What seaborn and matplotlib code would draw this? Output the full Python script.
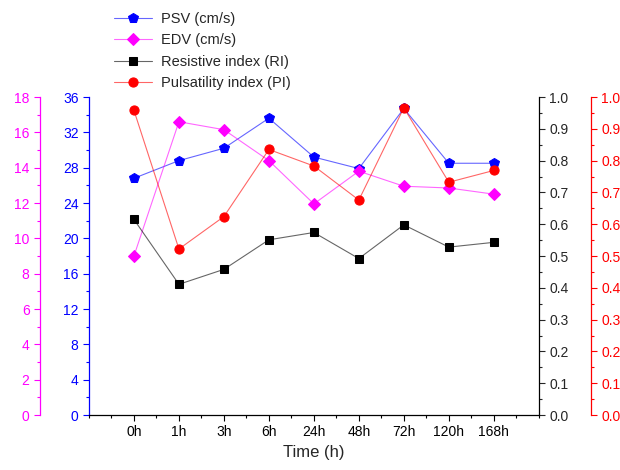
import numpy as np
import pandas as pd
import matplotlib
matplotlib.use("Agg")
import matplotlib.pyplot as plt
from matplotlib.ticker import MultipleLocator
from matplotlib.colors import to_rgba
import seaborn as sns

sns.set_style("ticks")
plt.rcParams["font.family"] = ["Liberation Sans", "DejaVu Sans"]

time_labels = ["0h", "1h", "3h", "6h", "24h", "48h", "72h", "120h", "168h"]
psv = [26.8, 28.8, 30.2, 33.6, 29.2, 27.9, 34.7, 28.5, 28.5]
edv = [9.0, 16.6, 16.15, 14.4, 11.95, 13.8, 12.95, 12.85, 12.5]
ri = [0.615, 0.411, 0.458, 0.551, 0.574, 0.492, 0.598, 0.528, 0.543]
pi = [0.958, 0.522, 0.624, 0.835, 0.783, 0.676, 0.966, 0.732, 0.769]

df = pd.DataFrame({"pos": np.arange(1, len(time_labels) + 1),
                   "PSV": psv, "EDV": edv, "RI": ri, "PI": pi})

BLUE, MAG, RED = "#0000ff", "#ff00ff", "#ff0000"

fig = plt.figure(figsize=(6.2, 4.7), dpi=100)
ax = fig.add_axes([0.1435, 0.117, 0.7255, 0.6766])
ax_m = ax.twinx()
ax_k = ax.twinx()
ax_r = ax.twinx()

lw = 0.8
series = [
    (ax, "PSV", BLUE, "p", 7.2, "PSV (cm/s)"),
    (ax_m, "EDV", MAG, "D", 5.8, "EDV (cm/s)"),
    (ax_k, "RI", "black", "s", 5.6, "Resistive index (RI)"),
    (ax_r, "PI", RED, "o", 6.6, "Pulsatility index (PI)"),
]
for a, col, c, mk, ms, lab in series:
    sns.lineplot(data=df, x="pos", y=col, ax=a, color=c, marker=mk,
                 markersize=ms, markeredgecolor=c, linewidth=lw,
                 label=lab, legend=False)
    ln = a.get_lines()[-1]
    ln.set_color(to_rgba(c, 0.6))
    ln.set_markerfacecolor(c)
    ln.set_markeredgecolor(c)

# x axis
ax.set_xlim(0, len(time_labels) + 1)
ax.set_xticks(df["pos"])
ax.set_xticklabels(time_labels)
ax.xaxis.set_minor_locator(MultipleLocator(0.5))
ax.set_xlabel("Time (h)", fontsize=12)

# blue PSV axis
ax.set_ylim(0, 36)
ax.yaxis.set_major_locator(MultipleLocator(4))
ax.yaxis.set_minor_locator(MultipleLocator(2))
ax.set_ylabel("")
ax.spines["left"].set_color(BLUE)
ax.spines["top"].set_visible(False)
ax.spines["right"].set_visible(False)
ax.tick_params(axis="y", colors=BLUE, which="both")

# magenta EDV axis
ax_m.set_ylim(0, 18)
ax_m.yaxis.set_major_locator(MultipleLocator(2))
ax_m.yaxis.set_minor_locator(MultipleLocator(1))
ax_m.yaxis.set_ticks_position("left")
ax_m.yaxis.set_label_position("left")
ax_m.spines["left"].set_position(("outward", 35.3))
ax_m.spines["left"].set_visible(True)
ax_m.spines["left"].set_color(MAG)
for s in ["right", "top", "bottom"]:
    ax_m.spines[s].set_visible(False)
ax_m.tick_params(axis="y", colors=MAG, which="both")
ax_m.set_ylabel("")

# black RI axis
ax_k.set_ylim(0, 1.0)
ax_k.yaxis.set_major_locator(MultipleLocator(0.1))
ax_k.yaxis.set_minor_locator(MultipleLocator(0.05))
for s in ["left", "top", "bottom"]:
    ax_k.spines[s].set_visible(False)
ax_k.spines["right"].set_color("black")
ax_k.set_ylabel("")

# red PI axis
ax_r.set_ylim(0, 1.0)
ax_r.yaxis.set_major_locator(MultipleLocator(0.1))
ax_r.yaxis.set_minor_locator(MultipleLocator(0.05))
ax_r.spines["right"].set_position(("outward", 37.4))
ax_r.spines["right"].set_color(RED)
for s in ["left", "top", "bottom"]:
    ax_r.spines[s].set_visible(False)
ax_r.tick_params(axis="y", colors=RED, which="both")
ax_r.set_ylabel("")

for a in [ax, ax_m, ax_k, ax_r]:
    a.tick_params(which="major", length=4, width=0.8, labelsize=10, direction="out")
    a.tick_params(which="minor", length=2.5, width=0.8, direction="out")
    for s in a.spines.values():
        s.set_linewidth(0.9)
ax.spines["bottom"].set_color("black")
ax.tick_params(axis="x", colors="black", which="both")

handles = []
labels = []
for a in [ax, ax_m, ax_k, ax_r]:
    h, l = a.get_legend_handles_labels()
    handles += h
    labels += l
fig.legend(handles, labels, loc="upper left", bbox_to_anchor=(0.17, 0.993),
           frameon=False, fontsize=10.5, handlelength=2.6, labelspacing=0.5,
           handletextpad=0.6, borderaxespad=0.2)

fig.savefig("out.png", dpi=100)
